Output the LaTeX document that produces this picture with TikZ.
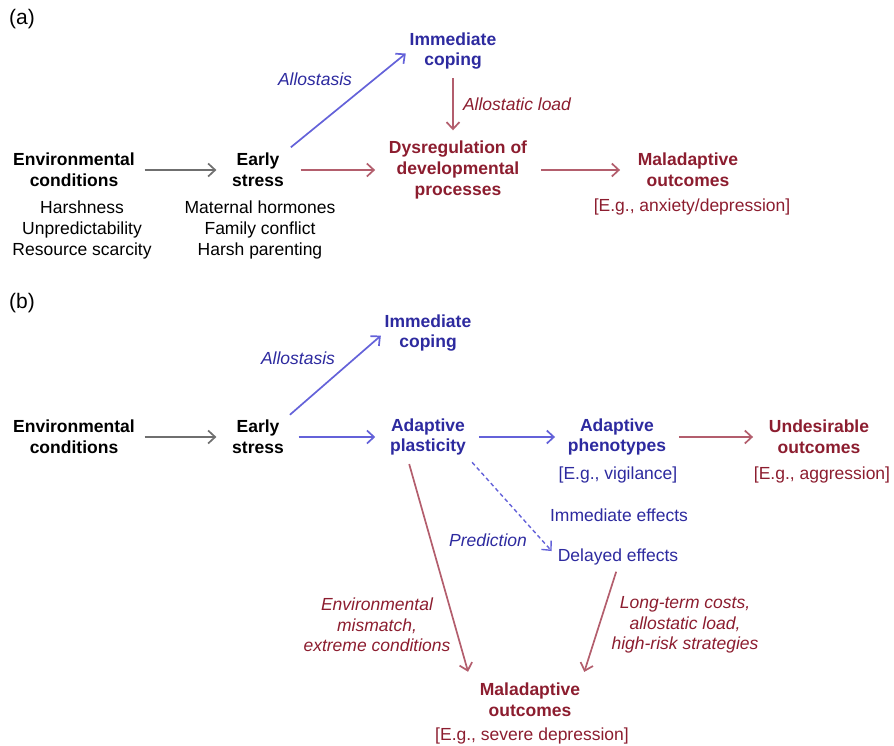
\documentclass[tikz,border=0pt]{standalone}
\usepackage{fontspec}
\setmainfont{Liberation Sans}
\usetikzlibrary{arrows.meta}

\definecolor{conblue}{HTML}{2D2A9F}
\definecolor{arrblue}{HTML}{6462D9}
\definecolor{conred}{HTML}{8C1D2F}
\definecolor{arrred}{HTML}{B35E6D}
\definecolor{arrgray}{HTML}{6F6F6F}

\tikzset{
  txt/.style={inner sep=0pt, align=center, font=\fontsize{17.5}{20.7}\selectfont},
  key/.style={txt, font=\bfseries\fontsize{17.5}{20.7}\selectfont},
  lbl/.style={txt, font=\itshape\fontsize{17.5}{20.7}\selectfont},
  tag/.style={inner sep=0pt, font=\fontsize{21}{24}\selectfont},
  grey/.style={draw=arrgray},
  blu/.style={draw=arrblue},
  rd/.style={draw=arrred}
}

\begin{document}
\begin{tikzpicture}[->,
            >={Straight Barb[length=7pt,width=13pt]},
            line width=1.7pt,
            x=1pt,
            y=-1pt]

        \useasboundingbox (0,0) rectangle (894,746);

        % (a)
        \node[tag]              (tagA)    at (22,19)   {(a)};
        \node[key]              (envA)    at (74,170)  {Environmental\\conditions};
        \node[txt]              (envAx)   at (82,230)  {Harshness\\Unpredictability\\Resource scarcity};
        \node[key]              (earlyA)  at (258,170) {Early\\stress};
        \node[txt]              (earlyAx) at (260,230) {Maternal hormones\\Family conflict\\Harsh parenting};
        \node[key,text=conblue] (copeA)   at (453,51)  {Immediate\\coping};
        \node[key,text=conred]  (dysreg)  at (458,170) {Dysregulation of\\developmental\\processes};
        \node[key,text=conred]  (malA)    at (688,170) {Maladaptive\\outcomes};
        \node[txt,text=conred]  (malAx)   at (692,207) {[E.g., anxiety/depression]};
        \node[lbl,text=conblue] (alloA)   at (315,79)  {Allostasis};
        \node[lbl,text=conred]  (loadA)   at (517,104) {Allostatic load};

        % (b)
        \node[tag]              (tagB)    at (22,303)  {(b)};
        \node[key]              (envB)    at (74,437)  {Environmental\\conditions};
        \node[key]              (earlyB)  at (258,437) {Early\\stress};
        \node[key,text=conblue] (copeB)   at (428,333) {Immediate\\coping};
        \node[key,text=conblue] (plast)   at (428,437) {Adaptive\\plasticity};
        \node[key,text=conblue] (pheno)   at (617,437) {Adaptive\\phenotypes};
        \node[txt,text=conblue] (phenoX)  at (618,475) {[E.g., vigilance]};
        \node[key,text=conred]  (undes)   at (819,437) {Undesirable\\outcomes};
        \node[txt,text=conred]  (undesX)  at (822,475) {[E.g., aggression]};
        \node[txt,text=conblue] (immed)   at (619,515) {Immediate effects};
        \node[txt,text=conblue] (delay)   at (618,557) {Delayed effects};
        \node[key,text=conred]  (malB)    at (530,700) {Maladaptive\\outcomes};
        \node[txt,text=conred]  (malBx)   at (532,736) {[E.g., severe depression]};
        \node[lbl,text=conblue] (alloB)   at (298,358) {Allostasis};
        \node[lbl,text=conblue] (pred)    at (488,540) {Prediction};
        \node[lbl,text=conred]  (mismatch) at (377,625) {Environmental\\mismatch,\\extreme conditions};
        \node[lbl,text=conred]  (costs)   at (685,625) {Long-term costs,\\allostatic load,\\high-risk strategies};

        \path (envA)              edge [grey, shorten <=9pt, shorten >=15pt] (earlyA)
              (earlyA)            edge [rd, shorten <=16pt, shorten >=13pt]  (dysreg)
              (dysreg)            edge [rd, shorten <=13pt, shorten >=17pt]  (malA)
              (earlyA.north east) edge [blu, shorten <=8pt, shorten >=4pt]   (copeA.west)
              (copeA.south)       edge [rd, shorten <=8pt, shorten >=10pt]   (copeA.south |- dysreg.north);

        \path (envB)              edge [grey, shorten <=9pt, shorten >=15pt] (earlyB)
              (earlyB)            edge [blu, shorten <=14pt, shorten >=14pt] (plast)
              (plast)             edge [blu, shorten <=12pt, shorten >=12pt] (pheno)
              (pheno)             edge [rd, shorten <=12pt, shorten >=15pt]  (undes)
              (earlyB.north east) edge [blu, shorten <=7pt, shorten >=4pt]   (copeB.west)
              (plast.south east)  edge [blu, line width=1.4pt, dash pattern=on 4pt off 3pt,
                                        shorten <=8pt, shorten >=8pt]        (delay.west)
              ([xshift=-21pt]plast.south)
                                  edge [rd, shorten <=8pt, shorten >=11pt]   ([xshift=-8pt]malB.north west)
              (delay.south)       edge [rd, shorten <=6pt, shorten >=11pt]   (malB.north east);

\end{tikzpicture}
\end{document}
